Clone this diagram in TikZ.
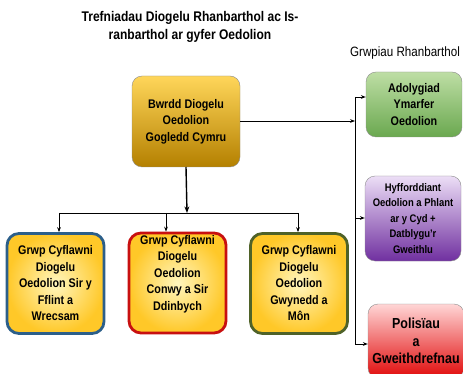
\documentclass[tikz,border=0pt]{standalone}
\usepackage{fontspec}
\setmainfont{Liberation Sans}[FakeStretch=0.86]
\usetikzlibrary{arrows.meta}
\definecolor{goldtop}{RGB}{255,214,90}
\definecolor{goldbot}{RGB}{180,128,0}
\definecolor{greentop}{RGB}{190,222,165}
\definecolor{greenbot}{RGB}{106,168,79}
\definecolor{purpletop}{RGB}{236,222,246}
\definecolor{purplebot}{RGB}{112,48,160}
\definecolor{redtop}{RGB}{255,214,214}
\definecolor{redbot}{RGB}{225,10,10}
\definecolor{lemon}{RGB}{255,246,190}
\definecolor{amber}{RGB}{255,200,40}
\definecolor{myblue}{RGB}{44,95,138}
\definecolor{myred}{RGB}{200,16,16}
\definecolor{mygreen}{RGB}{79,98,40}

\begin{document}
\begin{tikzpicture}[%
  x=1pt, y=-1pt,
  >={Stealth[scale=0.7]},
  link/.style={line width=0.9pt},
  box/.style={draw=black!45, rounded corners=10pt, align=center, inner sep=0pt,
    font=\bfseries\fontsize{12.5}{16.5}\selectfont},
  board/.style={box, minimum width=108pt, minimum height=91pt,
    top color=goldtop, bottom color=goldbot},
  group/.style={box, minimum width=96pt, top color=#1top, bottom color=#1bot},
  local/.style={box, draw=#1, line width=2.8pt, rounded corners=12pt,
    minimum width=97pt, minimum height=100pt,
    shading=radial, inner color=lemon, outer color=amber},
]

  \useasboundingbox (0,0) rectangle (463,374);

  \node[font=\bfseries\fontsize{14}{18}\selectfont, align=center] (title) at (190,27)
    {Trefniadau Diogelu Rhanbarthol ac Is-\\ranbarthol ar gyfer Oedolion};
  \node[font=\fontsize{13.5}{15}\selectfont] (regional) at (405,53) {Grwpiau Rhanbarthol};

  \node[board] (bwrdd) at (186,121.5) {Bwrdd Diogelu\\Oedolion\\Gogledd Cymru};

  \node[group=green, minimum height=65pt] (adolygiad) at (414,104.5)
    {Adolygiad\\Ymarfer\\Oedolion};
  \node[group=purple, minimum height=85pt, font=\bfseries\fontsize{11}{15.5}\selectfont]
    (hyfforddiant) at (413,218.5)
    {Hyfforddiant\\Oedolion a Phlant\\ar y Cyd +\\Datblygu'r\\Gweithlu};
  \node[group=red, minimum height=74pt, font=\bfseries\fontsize{14.5}{17.5}\selectfont]
    (polisiau) at (416,341) {Polisïau\\a\\Gweithdrefnau};

  \node[local=myblue] (flint) at (55.5,283.5)
    {Grwp Cyflawni\\Diogelu\\Oedolion Sir y\\Fflint a\\Wrecsam};
  \node[local=myred] (conwy) at (177.5,283)
    {Grwp Cyflawni\\Diogelu\\Oedolion\\Conwy a Sir\\Ddinbych\\[4pt]};
  \node[local=mygreen] (gwynedd) at (299,283.5)
    {Grwp Cyflawni\\Diogelu\\Oedolion\\Gwynedd a\\Môn};

  \coordinate (bus) at (355,121);
  \coordinate (busA) at (355,97);
  \coordinate (busB) at (355,218);
  \coordinate (busC) at (355,344);
  \coordinate (split) at (187,213);
  \coordinate (dropA) at (59,213);
  \coordinate (dropB) at (166,213);
  \coordinate (dropC) at (298,213);

  \draw[link,->] (bwrdd.east |- bus) -- (bus);
  \draw[link] (busA) -- (busC);
  \draw[link,->] (busA) -- (busA -| adolygiad.west);
  \draw[link,->] (busB) -- (busB -| hyfforddiant.west);
  \draw[link,->] (busC) -- (busC -| polisiau.west);

  \draw[link,line width=1.4pt,->] (bwrdd.south |- 0,167) -- (split);
  \draw[link] (dropA) -- (dropC);
  \draw[link,->] (dropA) -- (dropA |- flint.north);
  \draw[link,->] (dropB) -- (dropB |- conwy.north);
  \draw[link,->] (dropC) -- (dropC |- gwynedd.north);

\end{tikzpicture}
\end{document}
